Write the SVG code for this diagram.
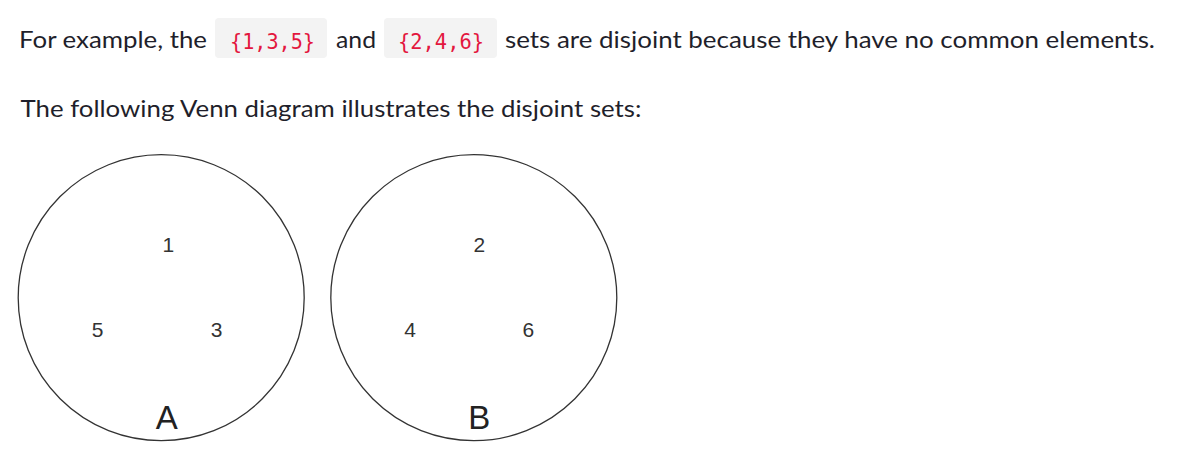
<svg xmlns="http://www.w3.org/2000/svg" width="1181" height="467" viewBox="0 0 1181 467">
<style>
.t{font-family:Lato,"Noto Sans","Liberation Sans",sans-serif;font-size:24px;fill:#1f1f2b}
.code{font-family:"DejaVu Sans Mono","Liberation Mono",monospace;font-size:22px;fill:#e3173e}
.cbox{fill:#f3f3f3}
.set{fill:none;stroke:#333;stroke-width:1.3}
.n{font-family:"Liberation Sans",Arial,sans-serif;font-size:21px;fill:#333;text-anchor:middle}
.lbl{font-family:"Liberation Sans",Arial,sans-serif;font-size:33px;fill:#222;text-anchor:middle}
</style>
<rect width="1181" height="467" fill="#fff"/>
<g id="text">
<text class="t" x="19" y="48" textLength="188" lengthAdjust="spacingAndGlyphs">For example, the</text>
<rect class="cbox" x="215" y="18" width="112" height="40" rx="4"/>
<text class="code" x="230" y="48.5" textLength="85" lengthAdjust="spacingAndGlyphs">{1,3,5}</text>
<text class="t" x="336" y="48" textLength="40" lengthAdjust="spacingAndGlyphs">and</text>
<rect class="cbox" x="384" y="18" width="113" height="40" rx="4"/>
<text class="code" x="398" y="48.5" textLength="86" lengthAdjust="spacingAndGlyphs">{2,4,6}</text>
<text class="t" x="505" y="48" textLength="650" lengthAdjust="spacingAndGlyphs">sets are disjoint because they have no common elements.</text>
<text class="t" x="20.5" y="116.5" textLength="621" lengthAdjust="spacingAndGlyphs">The following Venn diagram illustrates the disjoint sets:</text>
</g>
<g id="setA">
<circle class="set" cx="161.2" cy="297.7" r="143"/>
<text class="n" x="168.3" y="251.7">1</text>
<text class="n" x="97.7" y="336.7">5</text>
<text class="n" x="216.7" y="336.7">3</text>
<text class="lbl" x="166.7" y="429">A</text>
</g>
<g id="setB">
<circle class="set" cx="473.8" cy="297.7" r="143"/>
<text class="n" x="479.3" y="251.7">2</text>
<text class="n" x="410" y="336.7">4</text>
<text class="n" x="528.3" y="336.7">6</text>
<text class="lbl" x="479.3" y="429">B</text>
</g>
<g id="connectors"/>
</svg>
